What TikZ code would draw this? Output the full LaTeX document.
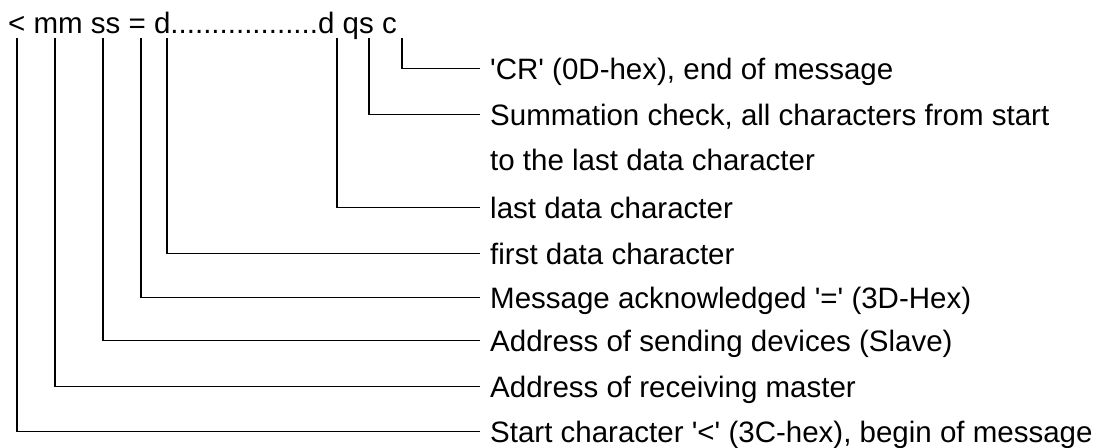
\documentclass[tikz,border=0pt]{standalone}
\usepackage{fontspec}
\setmainfont{Liberation Sans}
\begin{document}
\begin{tikzpicture}[x=1pt,y=-1pt,
  txt/.style={inner sep=0pt, anchor=base west, font=\fontsize{29.5pt}{35pt}\selectfont},
  lbl/.style={txt, inner xsep=11pt, inner ysep=0pt, text height=21pt, text depth=0pt},
  conn/.style={draw=black, line width=1.8pt, line cap=rect}]
\useasboundingbox (0,0) rectangle (1100,447);
\node[txt] (hdr) at (8,33) {< mm ss = d..................d qs c};
\node[lbl] (cr)   at (479,79)  {\textquotesingle CR\textquotesingle\ (0D-hex), end of message};
\node[lbl] (sum)  at (479,125) {Summation check, all characters from start};
\node[lbl] (sum2) at (479,170) {to the last data character};
\node[lbl] (last) at (479,218) {last data character};
\node[lbl] (first) at (479,264) {first data character};
\node[lbl] (ack)  at (479,308) {Message acknowledged \textquotesingle=\textquotesingle\ (3D-Hex)};
\node[lbl] (send) at (479,351) {Address of sending devices (Slave)};
\node[lbl] (recv) at (479,397) {Address of receiving master};
\node[lbl] (start) at (479,442) {Start character \textquotesingle<\textquotesingle\ (3C-hex), begin of message};
\coordinate (tlt) at (17,39);
\coordinate (tmm) at (55,39);
\coordinate (tss) at (103,39);
\coordinate (teq) at (141,39);
\coordinate (td1) at (167,39);
\coordinate (td2) at (337,39);
\coordinate (tqs) at (369,39);
\coordinate (tc)  at (402,39);
\draw[conn] (tlt) |- (start.west);
\draw[conn] (tmm) |- (recv.west);
\draw[conn] (tss) |- (send.west);
\draw[conn] (teq) |- (ack.west);
\draw[conn] (td1) |- (first.west);
\draw[conn] (td2) |- (last.west);
\draw[conn] (tqs) |- (sum.west);
\draw[conn] (tc)  |- (cr.west);
\end{tikzpicture}
\end{document}
